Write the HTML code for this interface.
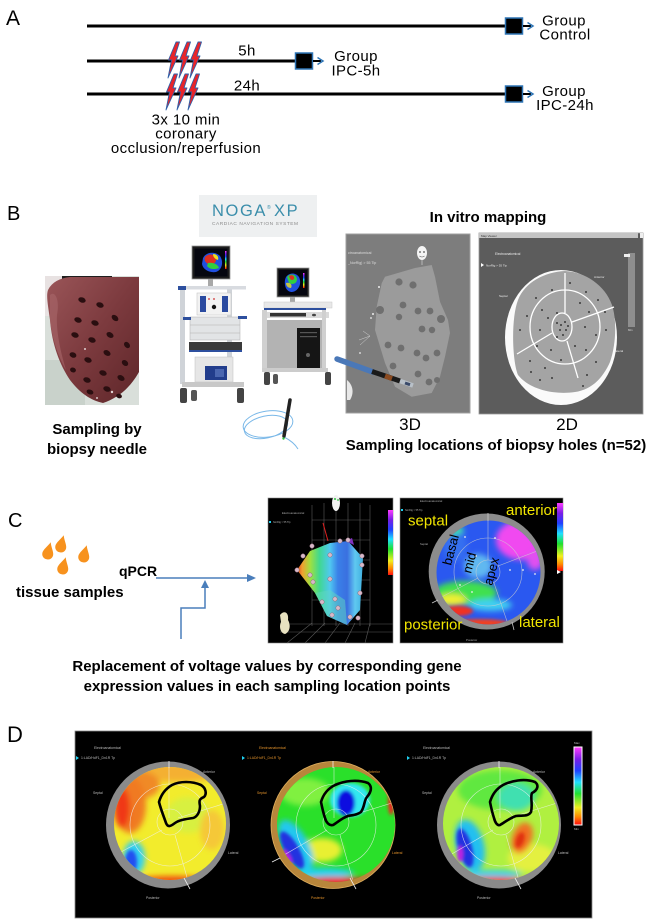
<!DOCTYPE html>
<html><head><meta charset="utf-8">
<style>
html,body{margin:0;padding:0;background:#fff;}
svg{display:block;}
text{font-family:"Liberation Sans",Arial,sans-serif;}
</style></head><body>
<svg width="650" height="924" viewBox="0 0 650 924" xmlns="http://www.w3.org/2000/svg">
<defs>
 <linearGradient id="rb" x1="0" y1="0" x2="0" y2="1">
  <stop offset="0" stop-color="#ff3cff"/>
  <stop offset="0.15" stop-color="#7a1ee6"/>
  <stop offset="0.3" stop-color="#2040ff"/>
  <stop offset="0.45" stop-color="#20e0ff"/>
  <stop offset="0.6" stop-color="#20e030"/>
  <stop offset="0.78" stop-color="#f0f020"/>
  <stop offset="0.9" stop-color="#ff8a00"/>
  <stop offset="1" stop-color="#ff1010"/>
 </linearGradient>
 <linearGradient id="g3d" x1="0" y1="0" x2="1" y2="0">
  <stop offset="0" stop-color="#e0461e"/>
  <stop offset="0.08" stop-color="#f0a030"/>
  <stop offset="0.2" stop-color="#a0e040"/>
  <stop offset="0.34" stop-color="#40d890"/>
  <stop offset="0.5" stop-color="#50c8f0"/>
  <stop offset="0.62" stop-color="#3a80e8"/>
  <stop offset="0.76" stop-color="#3a70e0"/>
  <stop offset="0.88" stop-color="#60c8f0"/>
  <stop offset="1" stop-color="#40b0e0"/>
 </linearGradient>
 <linearGradient id="heartg" x1="0" y1="0" x2="1" y2="1">
  <stop offset="0" stop-color="#9a5558"/>
  <stop offset="0.5" stop-color="#7c3a3e"/>
  <stop offset="1" stop-color="#5e2629"/>
 </linearGradient>
 <filter id="bl" x="-60%" y="-60%" width="220%" height="220%"><feGaussianBlur stdDeviation="3"/></filter>
 <filter id="bl2" x="-60%" y="-60%" width="220%" height="220%"><feGaussianBlur stdDeviation="1.5"/></filter>
 <clipPath id="d1"><ellipse cx="170" cy="823.5" rx="56" ry="56.5"/></clipPath>
 <clipPath id="d2"><ellipse cx="336" cy="824.5" rx="59" ry="57.5"/></clipPath>
 <clipPath id="d3"><ellipse cx="501" cy="823.5" rx="58" ry="56.5"/></clipPath>
 <clipPath id="c2"><ellipse cx="488.5" cy="572.5" rx="52" ry="52"/></clipPath>
 <clipPath id="ph"><rect x="45" y="276" width="94" height="129"/></clipPath>
</defs>

<!-- ================= PANEL A ================= -->
<text x="6" y="25" font-size="21">A</text>
<g stroke="#000" stroke-width="3">
 <line x1="87" y1="26" x2="506" y2="26"/>
 <line x1="87" y1="61" x2="296" y2="61"/>
 <line x1="87" y1="94" x2="506" y2="94"/>
</g>
<!-- end boxes -->
<g>
 <rect x="505.5" y="18" width="17" height="16" fill="#000" stroke="#2e75b6" stroke-width="1.5"/>
 <line x1="523" y1="26" x2="531" y2="26" stroke="#000" stroke-width="2"/>
 <path d="M527.5,22.5 L533,26 L527.5,29.5" fill="none" stroke="#2e75b6" stroke-width="1.5"/>
 <rect x="295.5" y="53" width="17" height="16" fill="#000" stroke="#2e75b6" stroke-width="1.5"/>
 <line x1="313" y1="61" x2="321" y2="61" stroke="#000" stroke-width="2"/>
 <path d="M317.5,57.5 L323,61 L317.5,64.5" fill="none" stroke="#2e75b6" stroke-width="1.5"/>
 <rect x="505.5" y="86" width="17" height="16" fill="#000" stroke="#2e75b6" stroke-width="1.5"/>
 <line x1="523" y1="94" x2="531" y2="94" stroke="#000" stroke-width="2"/>
 <path d="M527.5,90.5 L533,94 L527.5,97.5" fill="none" stroke="#2e75b6" stroke-width="1.5"/>
</g>
<g font-size="15" letter-spacing="0.4" text-anchor="middle">
 <text x="564" y="25.5">Group</text>
 <text x="565" y="39.5">Control</text>
 <text x="356" y="61">Group</text>
 <text x="356" y="75.5">IPC-5h</text>
 <text x="564" y="96">Group</text>
 <text x="565" y="110">IPC-24h</text>
 <text x="247" y="55.5">5h</text>
 <text x="247" y="90.5">24h</text>
 <text x="186" y="124.5">3x 10 min</text>
 <text x="186" y="138.5">coronary</text>
 <text x="186" y="153">occlusion/reperfusion</text>
</g>
<!-- lightning bolts -->
<g fill="#e8242a" stroke="#2f5fa8" stroke-width="0.9" stroke-linejoin="round">
 <path transform="translate(167,42)" d="M9,0 L12.5,0 L8,14 L11,14 L1,36 L4.5,18 L1.5,18 Z"/>
 <path transform="translate(178,42)" d="M9,0 L12.5,0 L8,14 L11,14 L1,36 L4.5,18 L1.5,18 Z"/>
 <path transform="translate(189,42)" d="M9,0 L12.5,0 L8,14 L11,14 L1,36 L4.5,18 L1.5,18 Z"/>
 <path transform="translate(165,74)" d="M9,0 L12.5,0 L8,14 L11,14 L1,36 L4.5,18 L1.5,18 Z"/>
 <path transform="translate(176,74)" d="M9,0 L12.5,0 L8,14 L11,14 L1,36 L4.5,18 L1.5,18 Z"/>
 <path transform="translate(187,74)" d="M9,0 L12.5,0 L8,14 L11,14 L1,36 L4.5,18 L1.5,18 Z"/>
</g>

<!-- ================= PANEL B ================= -->
<text x="7" y="220" font-size="20">B</text>

<!-- NOGA logo -->
<rect x="199" y="195" width="118" height="42" fill="#eef0f1"/>
<text x="212" y="216" font-size="16.5" fill="#3b8eab" letter-spacing="1.6">NOGA</text>
<text x="267" y="209" font-size="5" fill="#3b8eab">®</text>
<text x="274" y="216" font-size="16.5" fill="#3b8eab" letter-spacing="1.6">XP</text>
<text x="212" y="225" font-size="4.8" fill="#8a8a8a" letter-spacing="0.55">CARDIAC NAVIGATION SYSTEM</text>

<text x="488" y="222" font-size="15" font-weight="bold" text-anchor="middle">In vitro mapping</text>

<!-- heart photo -->
<g clip-path="url(#ph)">
 <rect x="45" y="276" width="94" height="129" fill="#d9dfda"/>
 <rect x="45" y="276" width="30" height="40" fill="#e8e2e2"/>
 <rect x="45" y="360" width="40" height="45" fill="#c9d2cb"/>
 <rect x="62" y="275" width="50" height="4" fill="#1e1e1e"/>
 <path d="M48,290 C52,282 60,278 70,277 L139,277 L139,372 C130,388 118,398 103,403 C90,400 80,393 70,380 C60,365 52,345 50,320 C48,305 46,296 48,290 Z" fill="url(#heartg)"/>
 <path d="M50,295 C55,290 60,300 57,315 C56,330 60,350 66,370 C60,360 52,340 50,320 Z" fill="#a8686a" opacity="0.6"/>
 <g fill="#2a0e10">
  <ellipse cx="82" cy="300" rx="3.8" ry="2.6" transform="rotate(20 82 300)"/>
  <ellipse cx="100" cy="305" rx="3.8" ry="2.6" transform="rotate(20 100 305)"/>
  <ellipse cx="78" cy="320" rx="3.8" ry="2.6" transform="rotate(20 78 320)"/>
  <ellipse cx="95" cy="323" rx="3.8" ry="2.6" transform="rotate(20 95 323)"/>
  <ellipse cx="115" cy="318" rx="3.8" ry="2.6" transform="rotate(40 115 318)"/>
  <ellipse cx="75" cy="335" rx="3.8" ry="2.6" transform="rotate(20 75 335)"/>
  <ellipse cx="92" cy="340" rx="3.8" ry="2.6" transform="rotate(20 92 340)"/>
  <ellipse cx="110" cy="335" rx="3.8" ry="2.6" transform="rotate(30 110 335)"/>
  <ellipse cx="127" cy="345" rx="3.5" ry="2.6" transform="rotate(50 127 345)"/>
  <ellipse cx="73" cy="355" rx="3.5" ry="2.6" transform="rotate(20 73 355)"/>
  <ellipse cx="88" cy="360" rx="3.8" ry="2.6" transform="rotate(20 88 360)"/>
  <ellipse cx="107" cy="353" rx="3.8" ry="2.6" transform="rotate(30 107 353)"/>
  <ellipse cx="125" cy="363" rx="3.5" ry="2.6" transform="rotate(40 125 363)"/>
  <ellipse cx="73" cy="370" rx="3" ry="2.4" transform="rotate(20 73 370)"/>
  <ellipse cx="87" cy="380" rx="3.8" ry="2.6" transform="rotate(20 87 380)"/>
  <ellipse cx="103" cy="373" rx="3.8" ry="2.6" transform="rotate(20 103 373)"/>
  <ellipse cx="121" cy="378" rx="3.8" ry="2.6" transform="rotate(30 121 378)"/>
  <ellipse cx="90" cy="392" rx="3.5" ry="2.4" transform="rotate(20 90 392)"/>
  <ellipse cx="107" cy="389" rx="3.8" ry="2.6" transform="rotate(20 107 389)"/>
  <ellipse cx="119" cy="396" rx="3" ry="2.2" transform="rotate(20 119 396)"/>
 </g>
 <circle cx="85" cy="349" r="0.9" fill="#fff"/>
 <circle cx="112" cy="392" r="1.2" fill="#fff" opacity="0.8"/>
 <circle cx="97" cy="398" r="1" fill="#fff" opacity="0.7"/>
</g>

<!-- NOGA machine 1 -->
<g>
 <rect x="192" y="246" width="38" height="33" fill="#1c1c1c" stroke="#9a9a9a" stroke-width="0.8"/>
 <rect x="194.5" y="248.5" width="33" height="28" fill="#05060f"/>
 <path d="M203,258 C206,252 215,251 220,256 C224,262 222,270 216,272 C210,273 203,270 202,264 Z" fill="#2050e0"/>
 <path d="M205,257 C209,253 214,254 216,258 C217,263 212,266 208,264 C205,262 204,260 205,257 Z" fill="#e03020"/>
 <path d="M208,263 C212,262 218,264 219,268 C214,270 209,269 207,266 Z" fill="#30d040"/>
 <path d="M213,254 C217,254 219,257 218,260 C215,259 213,257 213,254 Z" fill="#f0e020"/>
 <rect x="225" y="251" width="1.5" height="18" fill="url(#rb)"/>
 <rect x="208" y="279" width="5" height="8" fill="#a8a8a8"/>
 <rect x="180" y="287" width="5" height="97" fill="#cfd3d8"/>
 <rect x="227" y="287" width="5" height="97" fill="#cfd3d8"/>
 <rect x="178" y="286" width="68" height="3.5" fill="#d8dbe0"/>
 <rect x="178" y="286" width="8" height="4" fill="#2d4f9e"/>
 <rect x="197" y="293" width="34" height="22" fill="#f2f2f2" stroke="#c8c8c8" stroke-width="0.6"/>
 <rect x="200" y="296" width="6" height="16" fill="#2a4aa0"/>
 <rect x="222" y="296" width="6" height="16" fill="#2a4aa0"/>
 <circle cx="209" cy="299" r="0.9" fill="#d03030"/>
 <circle cx="214" cy="299" r="0.9" fill="#d03030"/>
 <circle cx="214" cy="307" r="2.2" fill="#111"/>
 <rect x="190" y="317" width="50" height="23" fill="#e2e4e6" stroke="#b8b8b8" stroke-width="0.6"/>
 <line x1="190" y1="325" x2="240" y2="325" stroke="#b0b0b0" stroke-width="0.6"/>
 <line x1="190" y1="333" x2="240" y2="333" stroke="#b0b0b0" stroke-width="0.6"/>
 <rect x="183" y="317" width="8" height="3" fill="#2d4f9e"/>
 <rect x="238" y="316" width="9" height="3" fill="#2d4f9e"/>
 <rect x="189" y="342" width="53" height="8" fill="#3a3a3a"/>
 <rect x="189" y="350" width="53" height="2" fill="#2d4f9e"/>
 <rect x="195" y="357" width="38" height="25" fill="#e6e6e6" stroke="#c0c0c0" stroke-width="0.5"/>
 <rect x="205" y="366" width="22" height="14" fill="#223d8c"/>
 <rect x="215" y="369" width="9" height="8" fill="#4a66b0"/>
 <rect x="182" y="382" width="62" height="5" fill="#c8c8c8"/>
 <rect x="180" y="388" width="7" height="15" rx="2" fill="#444"/>
 <rect x="191" y="390" width="6" height="11" rx="2" fill="#555"/>
 <rect x="237" y="388" width="7" height="15" rx="2" fill="#444"/>
</g>

<!-- NOGA machine 2 -->
<g>
 <rect x="277" y="268" width="32" height="29" fill="#1c1c1c" stroke="#9a9a9a" stroke-width="0.8"/>
 <rect x="279" y="270" width="28" height="25" fill="#05060f"/>
 <path d="M285,280 C286,273 295,271 299,277 C302,283 299,291 292,292 C287,292 284,287 285,280 Z" fill="#2050e0"/>
 <path d="M287,277 C290,273 296,274 297,279 C297,284 292,285 289,283 Z" fill="#30d040"/>
 <path d="M289,276 C292,274 295,276 294,279 C292,281 290,280 289,276 Z" fill="#e03020"/>
 <path d="M286,283 C289,282 293,284 291,288 C288,288 286,286 286,283 Z" fill="#f0e020" opacity="0.8"/>
 <rect x="303" y="273" width="1.5" height="15" fill="url(#rb)"/>
 <rect x="290" y="297" width="5" height="6" fill="#a8a8a8"/>
 <rect x="264" y="302" width="68" height="6" fill="#e8e8e8" stroke="#c8c8c8" stroke-width="0.5"/>
 <rect x="264" y="308" width="62" height="2" fill="#2d4f9e"/>
 <rect x="265" y="312" width="64" height="6" fill="#dadada"/>
 <rect x="270" y="313" width="36" height="3.5" fill="#333"/>
 <ellipse cx="314" cy="315" rx="2" ry="1.3" fill="#444"/>
 <rect x="262" y="310" width="5" height="62" fill="#d0d0d0"/>
 <rect x="267" y="320" width="56" height="48" fill="#b3b3b3"/>
 <rect x="322" y="310" width="4" height="62" fill="#d0d0d0"/>
 <rect x="297" y="328" width="23" height="40" fill="#151515"/>
 <rect x="300" y="332" width="17" height="1.2" fill="#555"/>
 <rect x="300" y="336" width="17" height="1.2" fill="#555"/>
 <circle cx="308" cy="355" r="2" fill="#666"/>
 <rect x="262" y="368" width="66" height="4" fill="#cccccc"/>
 <rect x="264" y="372" width="6" height="13" rx="2" fill="#444"/>
 <rect x="273" y="374" width="5" height="10" rx="2" fill="#555"/>
 <rect x="325" y="372" width="6" height="13" rx="2" fill="#444"/>
</g>

<!-- catheter loop -->
<g fill="none" stroke="#7ab8e8" stroke-width="1">
 <ellipse cx="268" cy="424" rx="25" ry="13" transform="rotate(-8 268 424)"/>
 <ellipse cx="266" cy="427" rx="22" ry="11" transform="rotate(-12 266 427)"/>
 <path d="M284,437 C290,440 295,444 298,449"/>
</g>
<line x1="290" y1="400" x2="284" y2="436" stroke="#222" stroke-width="3.5" stroke-linecap="round"/>
<circle cx="283.5" cy="438.5" r="1.2" fill="#30c040"/>

<!-- 3D image -->
<rect x="346" y="234" width="124" height="179" fill="#7d7d7d" stroke="#a0a0a0" stroke-width="1"/>
<path d="M381.7,283.3 L385,276.7 L415,268 L431.7,265 L435,276.7 L440,301.7 L448,320 L450,333 L445,356.7 L440,376.7 L431.7,393 L411.7,396.7 L395,386.7 L385,363 L375,330 L376.7,306.7 Z" fill="#9b9b9b"/>
<g fill="#6f6f6f">
 <circle cx="399" cy="282" r="3.6"/><circle cx="413" cy="285" r="3.6"/><circle cx="403" cy="305" r="3.4"/>
 <circle cx="418" cy="311" r="3.4"/><circle cx="430" cy="311" r="3.4"/><circle cx="441" cy="319" r="4"/>
 <circle cx="399" cy="317" r="3.2"/><circle cx="422" cy="329" r="3.4"/><circle cx="432" cy="330" r="3.2"/>
 <circle cx="388" cy="345" r="3.4"/><circle cx="401" cy="348" r="3.4"/><circle cx="417" cy="353" r="3.4"/>
 <circle cx="426" cy="358" r="3.4"/><circle cx="437" cy="353" r="3.4"/><circle cx="393" cy="366" r="3.4"/>
 <circle cx="418" cy="374" r="3.4"/><circle cx="429" cy="382" r="3.4"/><circle cx="437" cy="380" r="3"/>
 <circle cx="380" cy="310" r="4"/>
</g>
<ellipse cx="422" cy="253" rx="5" ry="7" fill="#f4f4f4"/>
<circle cx="420" cy="252" r="0.9" fill="#555"/><circle cx="424" cy="252" r="0.9" fill="#555"/>
<path d="M419.5,256 Q422,258 424.5,256" fill="none" stroke="#555" stroke-width="0.6"/>
<line x1="422" y1="260" x2="422" y2="265" stroke="#ddd" stroke-width="0.6"/>
<text x="348" y="254" font-size="3.6" fill="#ddd">ctroanatomical</text>
<text x="348" y="264" font-size="3.6" fill="#ddd">_NorRig) &gt; 55 Tip</text>
<g stroke="#cfcfcf" stroke-width="0.5">
 <line x1="370" y1="336" x2="360" y2="345"/><line x1="370" y1="336" x2="363" y2="331"/><line x1="370" y1="336" x2="359" y2="340"/>
</g>
<circle cx="379" cy="287" r="1" fill="#eee"/><circle cx="373" cy="314" r="1" fill="#eee"/><circle cx="371" cy="318" r="0.9" fill="#eee"/><circle cx="360" cy="353" r="0.9" fill="#eee"/>
<path d="M347,380 C352,384 355,392 350,400 L347,400 Z" fill="#e8e8e8"/>
<!-- blue catheter -->
<line x1="337" y1="359" x2="373" y2="372" stroke="#4a78b8" stroke-width="5.5" stroke-linecap="round"/>
<line x1="372" y1="371.5" x2="400" y2="381" stroke="#1a1a1a" stroke-width="5"/>
<line x1="385" y1="376" x2="392" y2="378.5" stroke="#8a4a20" stroke-width="5"/>
<line x1="400" y1="381" x2="413" y2="385.5" stroke="#b8c0c8" stroke-width="4.5"/>
<line x1="405" y1="383" x2="410" y2="384.7" stroke="#3a4a6a" stroke-width="3"/>

<!-- 2D image -->
<rect x="479" y="233" width="164" height="181" fill="#5c5c5c" stroke="#999" stroke-width="0.8"/>
<rect x="479" y="233" width="159" height="5" fill="#c4c4c4"/>
<rect x="640" y="233" width="3" height="5" fill="#eee"/>
<text x="481" y="237" font-size="3" fill="#333">Map Viewer</text>
<text x="495" y="255" font-size="3.2" fill="#e8e8e8">Electroanatomical</text>
<path d="M481,263 L484,265 L481,267 Z" fill="#fff"/>
<text x="486" y="266.5" font-size="3" fill="#e8e8e8">NorRig &gt; 55 Tip</text>
<text x="499" y="297" font-size="3" fill="#e8e8e8">Septal</text>
<text x="594" y="278" font-size="3" fill="#e8e8e8">Anterior</text>
<text x="614" y="352" font-size="3" fill="#e8e8e8">Lateral</text>
<text x="543" y="397" font-size="3" fill="#e8e8e8">Posterior</text>
<rect x="628" y="253" width="7" height="74" fill="#8e8e8e"/>
<rect x="624" y="254" width="6" height="3" fill="#eee"/>
<text x="628" y="331" font-size="2.8" fill="#ddd">Min</text>
<ellipse cx="561" cy="337.5" rx="56" ry="67.5" fill="#fafafa"/>
<path d="M518,300 C525,282 545,272 565,271 C585,272 605,285 612,305 C617,320 616,345 610,362 C602,380 590,390 575,392 C555,395 530,390 518,375 C512,360 511,318 518,300 Z" fill="#a4a4a4"/>
<g fill="none" stroke="#fff" stroke-width="1.3">
 <ellipse cx="565" cy="327" rx="35" ry="37"/>
 <ellipse cx="562" cy="327" rx="10" ry="14"/>
 <line x1="565" y1="273" x2="565" y2="313"/>
 <line x1="572" y1="322" x2="614" y2="307"/>
 <line x1="552" y1="333" x2="517" y2="354"/>
 <line x1="567" y1="341" x2="578" y2="378"/>
</g>
<g fill="#3a3a3a">
 <circle cx="536" cy="298" r="1"/><circle cx="552" cy="290" r="1"/><circle cx="570" cy="283" r="1"/><circle cx="586" cy="292" r="1"/>
 <circle cx="598" cy="300" r="1"/><circle cx="605" cy="312" r="1"/><circle cx="527" cy="316" r="1"/><circle cx="542" cy="310" r="1"/>
 <circle cx="557" cy="313" r="1"/><circle cx="548" cy="318" r="1"/><circle cx="580" cy="303" r="1"/><circle cx="589" cy="312" r="1"/>
 <circle cx="557" cy="323" r="1"/><circle cx="561" cy="325" r="1"/><circle cx="565" cy="322" r="1"/><circle cx="560" cy="330" r="1"/>
 <circle cx="566" cy="330" r="1"/><circle cx="563" cy="335" r="1"/><circle cx="557" cy="337" r="1"/><circle cx="568" cy="326" r="1"/>
 <circle cx="540" cy="330" r="1"/><circle cx="585" cy="327" r="1"/><circle cx="596" cy="335" r="1"/><circle cx="606" cy="330" r="1"/>
 <circle cx="537" cy="346" r="1"/><circle cx="551" cy="350" r="1"/><circle cx="575" cy="346" r="1"/><circle cx="586" cy="350" r="1"/>
 <circle cx="530" cy="361" r="1"/><circle cx="545" cy="368" r="1"/><circle cx="561" cy="360" r="1"/><circle cx="596" cy="362" r="1"/>
 <circle cx="531" cy="372" r="1"/><circle cx="540" cy="380" r="1"/><circle cx="552" cy="378" r="1"/><circle cx="587" cy="375" r="1"/>
 <circle cx="583" cy="386" r="1"/><circle cx="520" cy="330" r="1"/>
</g>

<text x="410" y="430" font-size="17" text-anchor="middle">3D</text>
<text x="567" y="430" font-size="17" text-anchor="middle">2D</text>
<text x="496" y="450" font-size="15" font-weight="bold" text-anchor="middle">Sampling locations of biopsy holes (n=52)</text>
<text x="97" y="434" font-size="15" font-weight="bold" text-anchor="middle">Sampling by</text>
<text x="97" y="454" font-size="15" font-weight="bold" text-anchor="middle">biopsy needle</text>

<!-- ================= PANEL C ================= -->
<text x="8" y="527" font-size="20">C</text>
<g fill="#f7921e">
 <path transform="translate(43,542) rotate(12 5.5 8.5)" d="M6,0 C7,4 11,9 11,12 C11,15.5 8.5,17.5 5.5,17.5 C2.5,17.5 0,15.5 0,12 C0,9 4,4 6,0 Z"/>
 <path transform="translate(56,535) rotate(12 5.5 8.5)" d="M6,0 C7,4 11,9 11,12 C11,15.5 8.5,17.5 5.5,17.5 C2.5,17.5 0,15.5 0,12 C0,9 4,4 6,0 Z"/>
 <path transform="translate(79,545) rotate(12 5.5 8.5)" d="M6,0 C7,4 11,9 11,12 C11,15.5 8.5,17.5 5.5,17.5 C2.5,17.5 0,15.5 0,12 C0,9 4,4 6,0 Z"/>
 <path transform="translate(58,557) rotate(12 5.5 8.5)" d="M6,0 C7,4 11,9 11,12 C11,15.5 8.5,17.5 5.5,17.5 C2.5,17.5 0,15.5 0,12 C0,9 4,4 6,0 Z"/>
</g>
<text x="16" y="597" font-size="15" font-weight="bold">tissue samples</text>
<text x="119" y="576" font-size="14" font-weight="bold">qPCR</text>
<g stroke="#4a7ebb" stroke-width="1.5" fill="none">
 <line x1="156" y1="578" x2="249" y2="578"/>
 <path d="M181,639 V608 H205 V587"/>
</g>
<path d="M247,574 L256,578 L247,582 Z" fill="#4a7ebb"/>
<path d="M201,588 L205,580 L209,588 Z" fill="#4a7ebb"/>

<!-- 3D map C -->
<rect x="268" y="498" width="125" height="145" fill="#000" stroke="#888" stroke-width="0.6"/>
<g stroke="#5a5a5a" stroke-width="0.6" fill="none">
 <line x1="312" y1="505" x2="312" y2="626"/><line x1="324" y1="503" x2="324" y2="626"/>
 <line x1="336" y1="503" x2="336" y2="626"/><line x1="348" y1="503" x2="348" y2="626"/>
 <line x1="360" y1="503" x2="360" y2="626"/><line x1="370" y1="505" x2="370" y2="626"/>
 <line x1="312" y1="520" x2="370" y2="520"/><line x1="312" y1="540" x2="370" y2="540"/>
 <line x1="312" y1="560" x2="370" y2="560"/><line x1="312" y1="580" x2="370" y2="580"/>
 <line x1="312" y1="600" x2="370" y2="600"/>
 <line x1="287" y1="643" x2="312" y2="623"/><line x1="305" y1="643" x2="325" y2="623"/>
 <line x1="325" y1="643" x2="340" y2="623"/><line x1="345" y1="643" x2="355" y2="623"/>
 <line x1="365" y1="643" x2="370" y2="623"/><line x1="280" y1="632" x2="393" y2="632"/>
 <line x1="290" y1="624" x2="393" y2="624"/>
</g>
<text x="282" y="514" font-size="2.8" fill="#aaa">Electroanatomical</text>
<rect x="269" y="521" width="2" height="2" fill="#20d0f0"/>
<text x="273" y="523" font-size="2.5" fill="#aaa">NorRig &gt; 55 Tip</text>
<line x1="323" y1="523" x2="328" y2="541" stroke="#e02020" stroke-width="1"/>
<path d="M297,570 L310,551 L330,543 L348,541 L363,558 L360,610 L347,625 L327,616 L315,593 Z" fill="url(#g3d)"/>
<path d="M315,593 L327,616 L347,625 L345,600 L330,590 Z" fill="#60d8c0" opacity="0.5"/>
<path d="M346,541 L352,538 L354,545 Z" fill="#8030c0"/>
<g fill="#d8b8c8" stroke="#8a6a7a" stroke-width="0.5">
 <circle cx="312" cy="546" r="2.2"/><circle cx="303" cy="556" r="2.2"/><circle cx="297" cy="570" r="2.2"/>
 <circle cx="310" cy="575" r="2.2"/><circle cx="313" cy="582" r="2.2"/><circle cx="330" cy="555" r="2.2"/>
 <circle cx="330" cy="579" r="2.2"/><circle cx="335" cy="599" r="2.2"/><circle cx="338" cy="608" r="2.2"/>
 <circle cx="322" cy="602" r="2.2"/><circle cx="332" cy="615" r="2.2"/><circle cx="350" cy="617" r="2.2"/>
 <circle cx="358" cy="618" r="2.2"/><circle cx="360" cy="593" r="2.2"/><circle cx="362" cy="565" r="2.2"/>
 <circle cx="362" cy="556" r="2.2"/><circle cx="340" cy="541" r="2.2"/><circle cx="348" cy="540" r="2.2"/>
</g>
<ellipse cx="336" cy="503" rx="4" ry="8" fill="#f2f2f2"/>
<circle cx="335" cy="499" r="1" fill="#30c040"/><circle cx="338" cy="500" r="0.9" fill="#30c040"/>
<path d="M280,615 C284,610 289,612 288,620 C291,625 290,632 285,634 C280,633 279,626 281,622 Z" fill="#e8e2c0"/>
<rect x="388" y="510" width="5" height="65" fill="url(#rb)"/>

<!-- 2D map C -->
<rect x="400" y="498" width="163" height="145" fill="#000" stroke="#888" stroke-width="0.6"/>
<text x="420" y="502" font-size="2.8" fill="#aaa">Electroanatomical</text>
<rect x="401" y="509" width="2" height="2" fill="#20d0f0"/>
<text x="405" y="511" font-size="2.5" fill="#aaa">NorRig &gt; 55 Tip</text>
<text x="420" y="545" font-size="2.8" fill="#aaa">Septal</text>
<text x="466" y="641" font-size="2.8" fill="#aaa">Posterior</text>
<ellipse cx="486.7" cy="571.5" rx="58" ry="58" fill="#8c8c8c"/>
<g clip-path="url(#c2)">
 <rect x="430" y="515" width="120" height="115" fill="#2a58f0"/>
 <g filter="url(#bl)">
  <ellipse cx="522" cy="540" rx="26" ry="20" fill="#f048f0"/>
  <ellipse cx="535" cy="560" rx="8" ry="10" fill="#e050f0"/>
  <ellipse cx="478" cy="566" rx="14" ry="12" fill="#60b8f0"/>
  <ellipse cx="455" cy="545" rx="12" ry="16" fill="#3470f0"/>
  <ellipse cx="465" cy="593" rx="32" ry="12" fill="#40e050"/>
  <ellipse cx="452" cy="600" rx="14" ry="6" fill="#f0f030"/>
  <ellipse cx="490" cy="605" rx="22" ry="6" fill="#40d0f0"/>
  <ellipse cx="452" cy="530" rx="12" ry="5" fill="#40e0a0"/>
 </g>
 <g filter="url(#bl2)">
  <ellipse cx="458" cy="611" rx="15" ry="5" fill="#f03020"/>
  <ellipse cx="478" cy="623" rx="30" ry="4" fill="#f04020"/>
 </g>
 <g fill="none" stroke="#d0d0d0" stroke-width="0.6" opacity="0.8">
  <circle cx="488" cy="572" r="34"/>
  <circle cx="488" cy="572" r="12"/>
  <line x1="488" y1="515" x2="488" y2="560"/>
  <line x1="498" y1="566" x2="545" y2="548"/>
  <line x1="478" y1="578" x2="432" y2="602"/>
  <line x1="494" y1="583" x2="510" y2="630"/>
 </g>
 <g fill="#eee">
  <circle cx="465" cy="537" r="0.9"/><circle cx="495" cy="538" r="0.9"/><circle cx="476" cy="556" r="0.9"/>
  <circle cx="510" cy="570" r="0.9"/><circle cx="523" cy="570" r="0.9"/><circle cx="460" cy="585" r="0.9"/>
  <circle cx="472" cy="592" r="0.9"/><circle cx="535" cy="574" r="0.9"/>
 </g>
</g>
<g stroke="#c8c8c8" stroke-width="0.8">
 <line x1="488" y1="513" x2="488" y2="521"/>
 <line x1="432" y1="603" x2="438" y2="600"/>
 <line x1="512" y1="622" x2="514" y2="630"/>
</g>
<g font-size="13" fill="#000">
 <text transform="translate(451,566) rotate(-75)">basal</text>
 <text transform="translate(471,574) rotate(-75)">mid</text>
 <text transform="translate(492,586) rotate(-75)">apex</text>
</g>
<g font-size="15" fill="#f2e600">
 <text x="408" y="525.5">septal</text>
 <text x="506" y="515">anterior</text>
 <text x="404" y="629.5">posterior</text>
 <text x="519" y="627">lateral</text>
</g>
<rect x="557" y="503" width="6" height="68" fill="url(#rb)"/>
<path d="M557,570 L561,572 L557,574 Z" fill="#fff"/>

<text x="267" y="671" font-size="15" font-weight="bold" text-anchor="middle">Replacement of voltage values by corresponding gene</text>
<text x="267" y="691" font-size="15" font-weight="bold" text-anchor="middle">expression values in each sampling location points</text>

<!-- ================= PANEL D ================= -->
<text x="7" y="742" font-size="22">D</text>
<rect x="75" y="731" width="517" height="187" fill="#000" stroke="#8a8a8a" stroke-width="0.8"/>
<!-- tiny labels -->
<g font-size="3.4">
 <text x="94" y="749" fill="#bbb">Electroanatomical</text>
 <text x="259" y="749" fill="#e0902a">Electroanatomical</text>
 <text x="423" y="749" fill="#bbb">Electroanatomical</text>
 <text x="81" y="759" fill="#bbb">1:LAD/HdF1_Dn1R Tp</text>
 <text x="247" y="759" fill="#e0902a">1:LAD/HdF1_Dn1R Tp</text>
 <text x="412" y="759" fill="#bbb">1:LAD/HdF1_Dn1R Tp</text>
 <text x="93" y="794" fill="#bbb">Septal</text>
 <text x="257" y="794" fill="#e0902a">Septal</text>
 <text x="422" y="794" fill="#bbb">Septal</text>
 <text x="146" y="899" fill="#bbb">Posterior</text>
 <text x="311" y="899" fill="#e0902a">Posterior</text>
 <text x="477" y="899" fill="#bbb">Posterior</text>
 <text x="228" y="854" fill="#bbb">Lateral</text>
 <text x="392" y="854" fill="#e0902a">Lateral</text>
 <text x="558" y="854" fill="#bbb">Lateral</text>
 <text x="203" y="773" fill="#bbb">Anterior</text>
 <text x="368" y="773" fill="#e0902a">Anterior</text>
 <text x="533" y="773" fill="#bbb">Anterior</text>
</g>
<g fill="#bbb">
 <path d="M76,756 L79,758 L76,760 Z" fill="#20d0f0"/>
 <path d="M242,756 L245,758 L242,760 Z" fill="#20d0f0"/>
 <path d="M407,756 L410,758 L407,760 Z" fill="#20d0f0"/>
</g>

<!-- circle 1 -->
<ellipse cx="168" cy="825" rx="62" ry="63.5" fill="#8a8a8a"/>
<g clip-path="url(#d1)">
 <rect x="110" y="764" width="120" height="120" fill="#f2ec2c"/>
 <g filter="url(#bl)">
  <ellipse cx="178" cy="772" rx="45" ry="10" fill="#f4b030"/>
  <ellipse cx="140" cy="785" rx="20" ry="14" fill="#f08a28"/>
  <ellipse cx="130" cy="805" rx="16" ry="28" fill="#f07a20"/>
  <ellipse cx="122" cy="808" rx="8" ry="20" fill="#f03818"/>
  <ellipse cx="188" cy="815" rx="22" ry="18" fill="#d8f040"/>
  <ellipse cx="212" cy="830" rx="12" ry="20" fill="#f5c838"/>
  <ellipse cx="134" cy="858" rx="11" ry="17" fill="#30d0f0"/>
  <ellipse cx="172" cy="882" rx="44" ry="6" fill="#f05010"/>
 </g>
 <g filter="url(#bl2)">
  <ellipse cx="131" cy="862" rx="6" ry="12" fill="#2050f0"/>
  <circle cx="129" cy="874" r="2" fill="#f02020"/>
 </g>
 <g fill="none" stroke="#f0f0f0" stroke-width="0.6" opacity="0.8">
  <ellipse cx="170" cy="825" rx="40" ry="41"/>
  <ellipse cx="170" cy="822" rx="13" ry="13"/>
  <line x1="169" y1="765" x2="169" y2="818"/>
  <line x1="178" y1="818" x2="226" y2="803"/>
  <line x1="162" y1="830" x2="106" y2="860"/>
  <line x1="175" y1="835" x2="190" y2="888"/>
 </g>
</g>
<line x1="184" y1="878" x2="190" y2="889" stroke="#eee" stroke-width="0.8"/>
<line x1="169" y1="761" x2="169" y2="768" stroke="#eee" stroke-width="0.8"/>
<path d="M159,802 C161,795 165,789 172,785 C180,781 192,781 201,785 C206,788 207,794 204,797 C199,799 199,801 200,806 C200,812 197,817 193,818 C186,819 179,820 175,823 C171,826 168,828 166,823 C164,817 161,810 159,802 Z" fill="none" stroke="#000" stroke-width="2.6" stroke-linejoin="round"/>

<!-- circle 2 -->
<ellipse cx="333" cy="825" rx="62" ry="63.5" fill="#b8863b"/>
<ellipse cx="333" cy="825" rx="62" ry="63.5" fill="none" stroke="#e0b060" stroke-width="0.8"/>
<g clip-path="url(#d2)">
 <rect x="275" y="765" width="125" height="120" fill="#2ae02a"/>
 <g filter="url(#bl)">
  <ellipse cx="305" cy="792" rx="25" ry="14" fill="#80f040"/>
  <ellipse cx="322" cy="850" rx="20" ry="12" fill="#e8f030"/>
  <ellipse cx="296" cy="845" rx="12" ry="28" fill="#20c8f0" transform="rotate(-30 296 845)"/>
  <ellipse cx="322" cy="873" rx="32" ry="5" fill="#20d0f0"/>
  <ellipse cx="336" cy="883" rx="44" ry="6" fill="#f02010"/>
 </g>
 <g filter="url(#bl2)">
  <ellipse cx="292" cy="850" rx="7" ry="21" fill="#2030e0" transform="rotate(-30 292 850)"/>
  <ellipse cx="287" cy="857" rx="3" ry="8" fill="#c020e0" transform="rotate(-30 287 857)"/>
  <ellipse cx="391" cy="802" rx="3" ry="13" fill="#f02020"/>
  <ellipse cx="350" cy="800" rx="20" ry="17" fill="#30e8f0"/>
  <ellipse cx="346" cy="803" rx="9" ry="13" fill="#1010e0"/>
 </g>
 <g fill="none" stroke="#f0f0f0" stroke-width="0.6" opacity="0.8">
  <ellipse cx="336" cy="825" rx="40" ry="41"/>
  <ellipse cx="336" cy="822" rx="13" ry="13"/>
  <line x1="334" y1="765" x2="334" y2="818"/>
  <line x1="343" y1="818" x2="392" y2="803"/>
  <line x1="327" y1="830" x2="272" y2="862"/>
  <line x1="340" y1="835" x2="355" y2="888"/>
 </g>
</g>
<line x1="333" y1="761" x2="333" y2="768" stroke="#eee" stroke-width="0.8"/>
<line x1="350" y1="878" x2="356" y2="889" stroke="#eee" stroke-width="0.8"/>
<line x1="272" y1="862" x2="280" y2="858" stroke="#eee" stroke-width="0.8"/>
<path d="M321,802 C323,795 327,789 335,785 C344,781 357,779 368,783 C372,786 372,791 367,797 C364,800 365,806 361,812 C357,815 353,815 348,816 C342,818 338,822 333,825 C329,826 326,822 325,818 C323,812 322,807 321,802 Z" fill="none" stroke="#000" stroke-width="2.6" stroke-linejoin="round"/>

<!-- circle 3 -->
<ellipse cx="499" cy="825" rx="62" ry="63.5" fill="#8a8a8a"/>
<g clip-path="url(#d3)">
 <rect x="440" y="765" width="125" height="120" fill="#b0f040"/>
 <g filter="url(#bl)">
  <ellipse cx="500" cy="790" rx="42" ry="20" fill="#60e840"/>
  <ellipse cx="532" cy="858" rx="24" ry="14" fill="#e4f040"/>
  <ellipse cx="470" cy="845" rx="14" ry="26" fill="#20c0f0" transform="rotate(-15 470 845)"/>
  <ellipse cx="522" cy="838" rx="10" ry="16" fill="#f07020" transform="rotate(20 522 838)"/>
  <ellipse cx="490" cy="874" rx="32" ry="4" fill="#30d0f0"/>
  <ellipse cx="492" cy="882" rx="40" ry="5" fill="#f03010"/>
  <ellipse cx="516" cy="797" rx="18" ry="14" fill="#40e0b0"/>
 </g>
 <g filter="url(#bl2)">
  <ellipse cx="465" cy="848" rx="7" ry="20" fill="#2030e0" transform="rotate(-15 465 848)"/>
  <ellipse cx="460" cy="854" rx="3" ry="8" fill="#c020e0"/>
  <ellipse cx="520" cy="840" rx="4" ry="8" fill="#e03010" transform="rotate(20 520 840)"/>
 </g>
 <g fill="none" stroke="#f0f0f0" stroke-width="0.6" opacity="0.8">
  <ellipse cx="501" cy="825" rx="40" ry="41"/>
  <ellipse cx="501" cy="822" rx="13" ry="13"/>
  <line x1="500" y1="765" x2="500" y2="818"/>
  <line x1="509" y1="818" x2="557" y2="803"/>
  <line x1="493" y1="830" x2="438" y2="862"/>
  <line x1="506" y1="835" x2="521" y2="888"/>
 </g>
</g>
<line x1="499" y1="761" x2="499" y2="768" stroke="#eee" stroke-width="0.8"/>
<line x1="515" y1="878" x2="521" y2="889" stroke="#eee" stroke-width="0.8"/>
<path d="M490,802 C492,795 496,789 503,785 C511,781 524,778 535,782 C539,785 538,790 532,793 C530,797 533,804 531,812 C528,817 522,815 516,816 C510,818 505,822 500,825 C497,826 495,822 494,818 C492,812 491,807 490,802 Z" fill="none" stroke="#000" stroke-width="2.6" stroke-linejoin="round"/>

<!-- colorbar D -->
<rect x="573.5" y="746.5" width="9" height="79" fill="#fff"/>
<rect x="574.5" y="747.5" width="7" height="77" fill="url(#rb)"/>
<text x="574" y="744" font-size="3" fill="#bbb">Max</text>
<text x="574" y="830" font-size="3" fill="#bbb">Min</text>
</svg>
</body></html>
